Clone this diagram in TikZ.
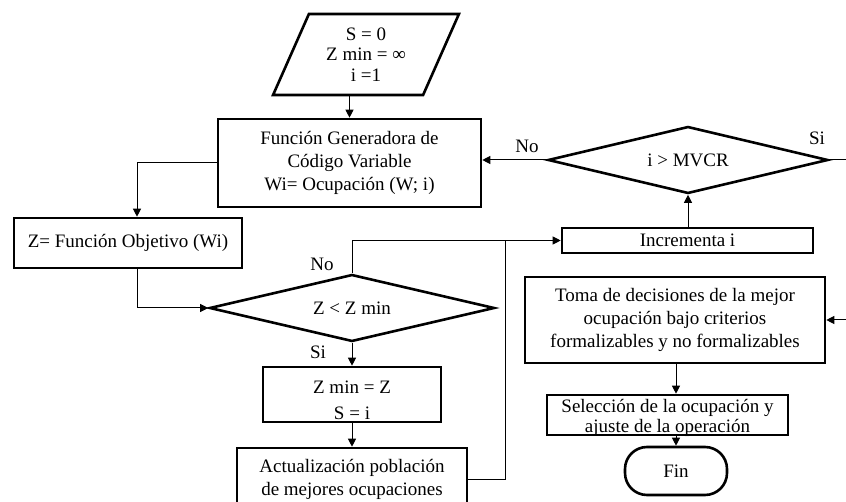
\documentclass[tikz,border=0pt]{standalone}
\usepackage{fontspec}
\setmainfont{Liberation Serif}
\usetikzlibrary{shapes.geometric,arrows.meta,calc}

\tikzset{
  txt/.style={font=\fontsize{19}{23}\selectfont, align=center},
  box/.style={draw, line width=2.6pt, rectangle, inner sep=0pt, txt},
  decision/.style={draw, line width=2.6pt, diamond, inner sep=0pt, aspect=4, txt},
  io/.style={draw, line width=2.6pt, trapezium, trapezium left angle=65,
    trapezium right angle=115, trapezium stretches=true, inner sep=0pt,
    font=\fontsize{19}{20.5}\selectfont, align=center},
  terminal/.style={draw, line width=2.6pt, rectangle, rounded corners=22pt, inner sep=0pt, txt},
  flow/.style={line width=1pt, -{Triangle[length=8pt,width=8pt]}},
  plain/.style={line width=1pt},
  lbl/.style={txt, inner sep=0pt}
}

\begin{document}
\begin{tikzpicture}[x=1pt, y=-1pt]
\useasboundingbox (0,0) rectangle (846,502);
\clip (0,0) rectangle (846,502);

% start data
\node[io, minimum width=186pt, minimum height=81pt] (start) at (366,54.5)
  {S = 0\\Z min = ∞\\i =1};

% generator of variable code
\node[box, minimum width=263pt, minimum height=88pt] (gen) at (349.5,163)
  {Función Generadora de\\Código Variable\\Wi= Ocupación (W; i)};

% objective function
\node[box, minimum width=228pt, minimum height=50pt] (obj) at (128,243)
  {Z= Función Objetivo (Wi)};

% comparison with current minimum
\node[decision, minimum width=285pt, minimum height=67pt] (cmp) at (352,308)
  {Z < Z min};

% update minimum
\node[box, minimum width=178pt, minimum height=55pt] (upd) at (352,394.5) {};
\node[lbl, font=\fontsize{19}{26}\selectfont] (updtxt) at (352,400) {Z min = Z\\S = i};

% population update
\node[box, minimum width=230pt, minimum height=62pt] (pop) at (352,479)
  {Actualización población\\de mejores ocupaciones};

% counter increment
\node[box, minimum width=251pt, minimum height=25pt] (inc) at (687.5,240.5)
  {Incrementa i};

% loop end test
\node[decision, minimum width=280pt, minimum height=67pt] (lim) at (688,160)
  {i > MVCR};

% decision making
\node[box, minimum width=300pt, minimum height=86pt] (dec) at (675,320)
  {Toma de decisiones de la mejor\\ocupación bajo criterios\\formalizables y no formalizables};

% selection
\node[box, minimum width=241pt, minimum height=40pt] (sel) at (667.5,415) {};
\node[lbl, font=\fontsize{19}{19.5}\selectfont] (seltxt) at (667.5,418)
  {Selección de la ocupación y\\ajuste de la operación};

% end
\node[terminal, minimum width=102pt, minimum height=48pt] (fin) at (676,471) {Fin};

% branch labels
\node[lbl] (cmpno) at (322,264) {No};
\node[lbl] (cmpsi) at (318,352) {Si};
\node[lbl] (limno) at (527,146) {No};
\node[lbl] (limsi) at (817,138) {Si};

% connector ends and junctions
\coordinate (objin) at ($(obj.north)+(9,0)$);
\coordinate (objout) at ($(obj.south)+(9,0)$);
\coordinate (join) at ($(inc.west)+(-55,0)$);
\coordinate (siout) at (846,160);
\coordinate (decin) at (846,320);
\coordinate (decout) at ($(dec.south)+(1,0)$);

% connectors
\draw[flow] (gen.north |- start.south) -- (gen.north);
\draw[flow] (gen.west) -| (objin);
\draw[flow] (objout) |- (cmp.west);
\draw[flow] (cmp.north) |- (inc.west);
\draw[flow] (cmp.south) -- (upd.north);
\draw[flow] (upd.south) -- (pop.north);
\draw[plain] (pop.east) -| (join);
\draw[flow] (inc.north -| lim.south) -- (lim.south);
\draw[flow] (lim.west) -- (lim.west -| gen.east);
\draw[plain] (lim.east) -- (siout);
\draw[flow] (decin) -- (dec.east);
\draw[flow] (decout) -- (decout |- sel.north);
\draw[flow] (decout |- sel.south) -- (fin.north);
\end{tikzpicture}
\end{document}
